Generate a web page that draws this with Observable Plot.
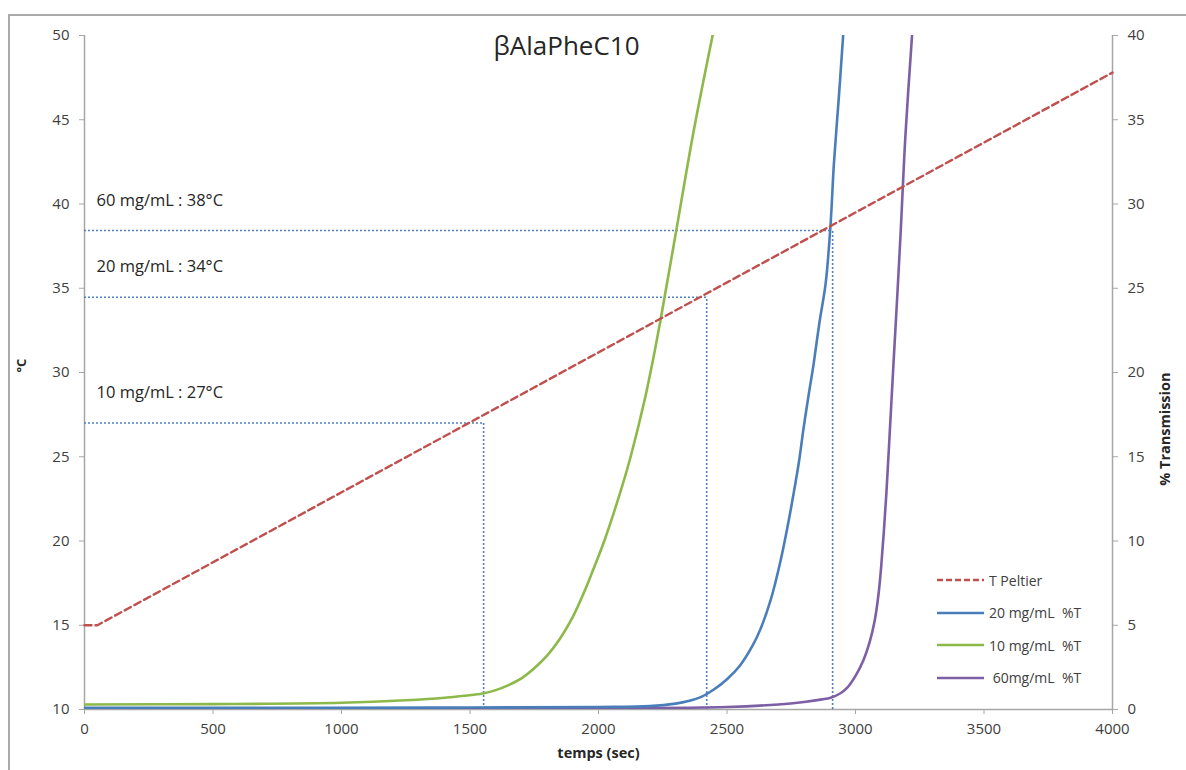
<!DOCTYPE html>
<html>
<head>
<meta charset="utf-8">
<script src="https://cdn.jsdelivr.net/npm/d3@7"></script>
<script src="https://cdn.jsdelivr.net/npm/@observablehq/plot@0.6"></script>
<style>
  html, body { margin: 0; padding: 0; background: #fff; overflow: hidden; }
  #wrap { position: relative; width: 1186px; height: 770px; font-family: "Open Sans", sans-serif; }
  #frame { position: absolute; left: 8px; top: 14px; width: 1200px; height: 800px; border: 2px solid #a9a9a9; pointer-events: none; }
  #legend { position: absolute; left: 937px; top: 564px; font-size: 14px; color: #404040; }
  #legend .row { display: flex; align-items: center; height: 32.5px; white-space: pre; }
  #legend svg { margin-right: 5px; }
</style>
</head>
<body>
<div id="wrap">
  <div id="chart"></div>
  <div id="frame"></div>
  <div id="legend"></div>
</div>
<script>
// ---- Data ----
const title = "βAlaPheC10";
const xTicks = [0, 500, 1000, 1500, 2000, 2500, 3000, 3500, 4000];
const leftTicks = [10, 15, 20, 25, 30, 35, 40, 45, 50];
const rightTickLabels = [0, 5, 10, 15, 20, 25, 30, 35, 40];

// T Peltier (°C)
const peltierTime = [0, 50, 4000];
const peltierTemp = [15, 15, 47.8];

// 10 mg/mL %T
const time10 = [0, 500, 1000, 1250, 1400, 1550, 1600, 1650, 1700, 1750, 1800, 1850, 1900, 1945, 1982, 2020, 2060, 2095, 2125, 2177, 2210, 2240, 2300, 2370, 2444];
const trans10 = [0.3, 0.32, 0.4, 0.55, 0.7, 0.95, 1.15, 1.45, 1.85, 2.45, 3.2, 4.2, 5.5, 7.0, 8.4, 9.9, 11.7, 13.4, 15.0, 18.2, 20.6, 23.0, 28.2, 34.3, 40];

// 20 mg/mL %T
const time20 = [0, 1000, 1500, 2000, 2200, 2300, 2350, 2400, 2450, 2500, 2550, 2600, 2631, 2670, 2708, 2735, 2759, 2780, 2798, 2818, 2837, 2860, 2884, 2903, 2916, 2935, 2952];
const trans20 = [0.1, 0.1, 0.12, 0.15, 0.2, 0.35, 0.5, 0.75, 1.2, 1.8, 2.6, 3.8, 4.8, 6.5, 8.8, 10.8, 12.8, 14.7, 16.7, 18.7, 20.5, 23.0, 25.3, 28.8, 32.4, 36.3, 40];

// 60 mg/mL %T
const time60 = [0, 1000, 2000, 2500, 2700, 2800, 2870, 2903, 2940, 2968, 3000, 3030, 3055, 3075, 3090, 3100, 3110, 3120, 3131, 3147, 3162, 3176, 3194, 3220];
const trans60 = [0.05, 0.05, 0.08, 0.15, 0.3, 0.45, 0.6, 0.7, 0.95, 1.3, 2.0, 2.9, 4.0, 5.3, 6.9, 8.5, 10.5, 12.8, 15.8, 20.3, 24.4, 28.4, 34.0, 40];

// Transition markers
const markLabels = ["10 mg/mL : 27°C", "20 mg/mL : 34°C", "60 mg/mL : 38°C"];
const markTimes = [1553, 2421, 2911];
const markTemps = [27.0, 34.47, 38.43];

// Legend
const legendNames = ["T Peltier", "20 mg/mL  %T", "10 mg/mL  %T", " 60mg/mL  %T"];
const colors = {peltier: "#C0504D", c20: "#4A7EBB", c10: "#8DB84A", c60: "#7D5FA6", marker: "#4F81BD"};

// ---- Build tables ----
const zip = (xs, ys) => xs.map((x, i) => ({x, y: ys[i]}));
const peltier = zip(peltierTime, peltierTemp);
const s10 = zip(time10, trans10);
const s20 = zip(time20, trans20);
const s60 = zip(time60, trans60);
const markers = markLabels.map((label, i) => ({label, t: markTimes[i], temp: markTemps[i]}));
const toLeft = (d) => d.y + 10; // %T (0–40) mapped onto °C (10–50)

const axisGray = "#a6a6a6";
const textGray = "#404040";

const chart = Plot.plot({
  width: 1186,
  height: 770,
  marginLeft: 84,
  marginRight: 74,
  marginTop: 35,
  marginBottom: 61,
  style: {fontFamily: "Open Sans, sans-serif", fontSize: "15px", background: "transparent", color: textGray},
  x: {domain: [0, 4000]},
  y: {domain: [10, 50]},
  marks: [
    Plot.ruleX([0, 4000], {stroke: axisGray, strokeWidth: 1.5}),
    Plot.ruleY([10], {stroke: axisGray, strokeWidth: 1.5}),
    Plot.axisX({ticks: xTicks, tickFormat: (d) => String(d), tickSize: 5, tickPadding: 9, stroke: axisGray, fill: textGray, label: null, fontSize: 15}),
    Plot.axisY({ticks: leftTicks, tickFormat: (d) => String(d), anchor: "left", tickSize: 5, tickPadding: 10, stroke: axisGray, fill: textGray, label: null, fontSize: 15}),
    Plot.axisY({ticks: rightTickLabels.map(v => v + 10), tickFormat: (d) => String(d - 10), anchor: "right", tickSize: 5, tickPadding: 10, stroke: axisGray, fill: textGray, label: null, fontSize: 15}),
    // marker dotted lines
    Plot.ruleY(markers, {y: "temp", x1: 0, x2: "t", stroke: colors.marker, strokeWidth: 1.6, strokeDasharray: "2,2"}),
    Plot.ruleX(markers, {x: "t", y1: 10, y2: "temp", stroke: colors.marker, strokeWidth: 1.6, strokeDasharray: "2,2"}),
    Plot.text(markers, {x: 0, y: "temp", text: "label", dx: 12, dy: -30, textAnchor: "start", fontSize: 16.5, fill: "#262626"}),
    // series
    Plot.line(s60, {x: "x", y: toLeft, stroke: colors.c60, strokeWidth: 2.6, curve: "catmull-rom", clip: true}),
    Plot.line(s20, {x: "x", y: toLeft, stroke: colors.c20, strokeWidth: 2.6, curve: "catmull-rom", clip: true}),
    Plot.line(s10, {x: "x", y: toLeft, stroke: colors.c10, strokeWidth: 2.6, curve: "catmull-rom", clip: true}),
    Plot.line(peltier, {x: "x", y: "y", stroke: colors.peltier, strokeWidth: 2.4, strokeDasharray: "7,4", curve: "linear"}),
    // title & axis labels
    Plot.text([title], {frameAnchor: "top", dx: -32, dy: 11, lineAnchor: "middle", fontSize: 26, fill: "#262626"}),
    Plot.text(["°C"], {frameAnchor: "left", dx: -63, rotate: -90, fontWeight: "bold", fontSize: 13, fill: "#262626"}),
    Plot.text(["temps (sec)"], {frameAnchor: "bottom", dy: 48, fontWeight: "bold", fontSize: 14.5, fill: "#262626"}),
    Plot.text(["% Transmission"], {frameAnchor: "right", dx: 53, rotate: -90, fontWeight: "bold", fontSize: 14.5, fill: "#262626"})
  ]
});
document.getElementById("chart").appendChild(chart);

// Legend (HTML overlay)
const legendStyles = [
  {color: colors.peltier, dash: "6,3"},
  {color: colors.c20, dash: null},
  {color: colors.c10, dash: null},
  {color: colors.c60, dash: null}
];
const legend = document.getElementById("legend");
legendNames.forEach((name, i) => {
  const row = document.createElement("div");
  row.className = "row";
  const st = legendStyles[i];
  row.innerHTML = `<svg width="47" height="6"><line x1="0" y1="3" x2="47" y2="3" stroke="${st.color}" stroke-width="2.6" ${st.dash ? `stroke-dasharray="${st.dash}"` : ""}/></svg><span>${name}</span>`;
  legend.appendChild(row);
});
</script>
</body>
</html>
